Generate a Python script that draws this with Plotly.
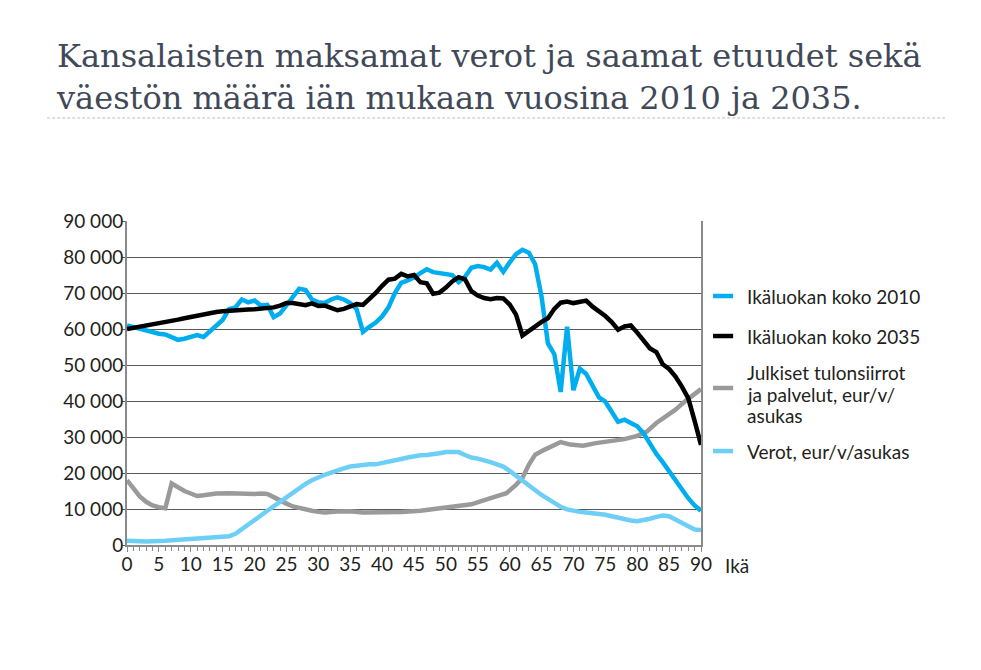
import plotly.graph_objects as go

# Ikäluokan koko 2010 (ikä, henkilöä)
ika_2010 = list(range(0, 91))
koko_2010 = [61000, 60500, 60000, 59500, 59000, 58700, 58500, 57800, 57000, 57300,
             57800, 58300, 57800, 59500, 61000, 62500, 65500, 66000, 68200, 67400,
             67900, 66500, 66700, 63300, 64300, 66500, 69000, 71200, 70800, 68200,
             67400, 67200, 68200, 68800, 68200, 67200, 65500, 59200, 60600, 61800,
             63500, 66000, 70000, 72800, 73500, 74300, 75500, 76600, 75800, 75500,
             75200, 75000, 73000, 74500, 77000, 77500, 77200, 76500, 78400, 75900,
             78500, 80800, 82000, 81200, 78000, 69000, 56000, 53000, 42500, 60600,
             43000, 49000, 47500, 44000, 41000, 39800, 37000, 34200, 34800, 34000,
             33000, 31000, 28000, 25300, 23000, 20500, 17800, 15700, 13000, 11000,
             9500]

# Ikäluokan koko 2035
ika_2035 = list(range(0, 91))
koko_2035 = [60000, 60300, 60600, 60800, 61100, 61400, 61800, 62200, 62600, 63000,
             63400, 63800, 64100, 64400, 64700, 64900, 65100, 65200, 65300, 65400,
             65500, 65600, 65700, 66000, 66500, 67200, 67200, 66900, 66600, 67100,
             66400, 66500, 65800, 65200, 65600, 66200, 66900, 66700, 68200, 70000,
             72000, 73700, 74000, 75300, 74600, 75000, 73000, 72700, 69800, 70100,
             71500, 73200, 74400, 73800, 70500, 69300, 68600, 68300, 68600, 68500,
             66800, 64000, 58200, 59500, 60800, 62000, 63000, 65600, 67300, 67600,
             67200, 67600, 67900, 66200, 64900, 63600, 61900, 59800, 60700, 61000,
             59000, 56800, 54600, 53600, 50200, 48900, 46800, 44000, 40800, 34500,
             27800]

# Julkiset tulonsiirrot ja palvelut, eur/v/asukas
ika_julk = [0, 1, 2, 3, 4, 5, 6, 7, 8, 9, 10, 11, 12, 13, 14, 16, 18, 20, 21, 22,
            23, 24, 25, 26, 27, 28, 29, 30, 31, 33, 35, 37, 40, 43, 46, 49, 52, 54,
            57, 59.5, 61, 62, 63, 64, 65.5, 67, 68, 69.5, 71.5, 73.5, 75.5, 78, 80,
            81.5, 83, 84.5, 86, 87.5, 90]
julk = [18000, 15800, 13500, 12000, 11000, 10500, 10200, 17100, 15900, 15000,
        14300, 13600, 13800, 14200, 14300, 14400, 14200, 14200, 14300, 14200,
        13300, 12300, 11500, 10700, 10200, 9900, 9500, 9200, 9000, 9300, 9400,
        9000, 9000, 9200, 9500, 10200, 10600, 11300, 13000, 14400, 16700, 18600,
        22300, 25100, 26500, 27600, 28600, 27900, 27600, 28300, 28800, 29400,
        30300, 31500, 33900, 35700, 37600, 39900, 43300]

# Verot, eur/v/asukas
ika_verot = [0, 3, 6, 9, 12, 15, 16, 17, 18, 19, 20, 21, 22, 23, 24, 25, 26, 27,
             28, 29, 30, 31, 32, 33, 34, 35, 36, 37, 38, 39, 40, 41, 42, 43, 44,
             45, 46, 47, 48, 49, 50, 51, 52, 53, 54, 55, 56, 57, 58, 59, 60, 61,
             62, 63, 64, 65, 66, 67, 68, 69, 70, 71, 72, 73, 74, 75, 76, 77, 78,
             79, 80, 81, 82, 83, 84, 85, 86, 87, 88, 89, 90]
verot = [1200, 1000, 1200, 1500, 1800, 2200, 2400, 3100, 4300, 5600, 6900, 8200,
         9500, 10800, 12100, 13400, 14700, 15800, 17000, 18000, 18900, 19500,
         20100, 20800, 21300, 21800, 22100, 22300, 22400, 22400, 22700, 23000,
         23500, 23900, 24300, 24700, 24900, 25000, 25100, 25500, 25800, 25900,
         25800, 25000, 24300, 24000, 23600, 23000, 22400, 21800, 20600, 19200,
         17800, 16400, 15000, 13900, 12800, 11600, 10600, 9900, 9400, 9200, 9000,
         8900, 8700, 8400, 8000, 7500, 7100, 6800, 6600, 6800, 7300, 7800, 8200,
         8000, 7100, 6000, 5000, 4300, 4200]

x_ticks = list(range(0, 91, 5))
y_ticks = list(range(0, 90001, 10000))

nimet = ['Ikäluokan koko 2010', 'Ikäluokan koko 2035',
         'Julkiset tulonsiirrot<br>ja palvelut, eur/v/<br>asukas', 'Verot, eur/v/asukas']
varit = ['#00aeef', '#000000', '#9a9a9a', '#6dcff6']

fig = go.Figure()
fig.add_trace(go.Scatter(x=ika_julk, y=julk, mode='lines', line=dict(color=varit[2], width=4.5),
                         name=nimet[2].replace('<br>', ' ')))
fig.add_trace(go.Scatter(x=ika_verot, y=verot, mode='lines', line=dict(color=varit[3], width=4.5),
                         name=nimet[3]))
fig.add_trace(go.Scatter(x=ika_2010, y=koko_2010, mode='lines', line=dict(color=varit[0], width=4.5),
                         name=nimet[0]))
fig.add_trace(go.Scatter(x=ika_2035, y=koko_2035, mode='lines', line=dict(color=varit[1], width=4.5),
                         name=nimet[1]))

fig.update_layout(
    width=973, height=662,
    paper_bgcolor='white', plot_bgcolor='white',
    margin=dict(l=119, r=280, t=213, b=125),
    separators=', ',
    font=dict(family='Lato', size=19, color='#231f20'),
    title=dict(text='Kansalaisten maksamat verot ja saamat etuudet sekä<br>'
                    'väestön määrä iän mukaan vuosina 2010 ja 2035.',
               x=0.0504, xanchor='left', xref='container',
               y=0.911, yanchor='top', yref='container',
               font=dict(family='DejaVu Serif', size=32, color='#414958')),
    showlegend=False,
)

fig.update_xaxes(range=[0, 90], tickvals=x_ticks, showgrid=False, zeroline=False,
                 showline=True, linecolor='#8a8a8a', linewidth=2,
                 ticks='outside', ticklen=5, tickcolor='#8a8a8a', tickwidth=1,
                 ticklabelstandoff=-4,
                 minor=dict(dtick=1, ticks='outside', ticklen=4, tickcolor='#8a8a8a'))
fig.update_yaxes(range=[0, 90000], tickvals=y_ticks, tickformat=',d',
                 showgrid=True, gridcolor='#5a5a5a', gridwidth=1, zeroline=False,
                 showline=True, linecolor='#8a8a8a', linewidth=2, mirror=True,
                 ticks='outside', ticklen=3, tickcolor='#5a5a5a',
                 ticklabelstandoff=-5)

# katkoviiva otsikon alla
fig.add_shape(type='line', xref='paper', yref='paper', x0=-0.139, x1=1.425, y0=1.318, y1=1.318,
              line=dict(color='#bdbdbd', width=1, dash='3px,2px'))

# selite oikealla
selite_y = [0.7685, 0.645, 0.4846, 0.290]
rivi_y = [[0.7685], [0.645], [0.5309, 0.4660, 0.4012], [0.290]]
for nimi, vari, sy, ry in zip(nimet, varit, selite_y, rivi_y):
    fig.add_shape(type='line', xref='paper', yref='paper', x0=1.021, x1=1.056, y0=sy, y1=sy,
                  line=dict(color=vari, width=4.5))
    for teksti, y in zip(nimi.split('<br>'), ry):
        fig.add_annotation(text=teksti, xref='paper', yref='paper', x=1.077, y=y,
                           showarrow=False, xanchor='left', yanchor='middle',
                           font=dict(size=19, color='#231f20'))

fig.add_annotation(text='Ikä', xref='paper', yref='paper', x=1.063, y=-0.064,
                   showarrow=False, xanchor='center', yanchor='middle',
                   font=dict(size=19, color='#231f20'))

fig.write_html("out.html")
